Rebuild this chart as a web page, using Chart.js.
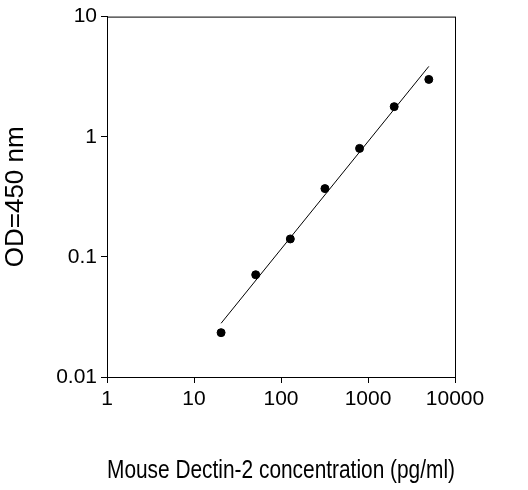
<!DOCTYPE html>
<html>
<head>
<meta charset="utf-8">
<script src="https://cdn.jsdelivr.net/npm/chart.js@4"></script>
<style>
  body { margin: 0; background: #fff; }
  #wrap { width: 528px; height: 490px; }
</style>
</head>
<body>
<div id="wrap"><canvas id="c"></canvas></div>
<script>
// standard concentrations (pg/ml) and measured OD
const conc = [20.48, 51.2, 128, 320, 800, 2000, 5000];
const od = [0.0234, 0.071, 0.141, 0.37, 0.80, 1.78, 3.0];
// fitted line end points
const fitX = [20.48, 5000];
const fitY = [0.028, 3.85];
const xTicks = [1, 10, 100, 1000, 10000];
const yTicks = [0.01, 0.1, 1, 10];

const fam = "Arial, 'Liberation Sans', sans-serif";
const tickFont = { family: fam, size: 21 };
const titleFont = { family: fam, size: 26 };

const boxPlugin = {
  id: "box",
  afterDraw(chart) {
    const a = chart.chartArea, ctx = chart.ctx;
    ctx.save();
    ctx.strokeStyle = "#000";
    ctx.lineWidth = 1;
    ctx.strokeRect(a.left + 0.5, a.top + 0.5, a.right - a.left, a.bottom - a.top);
    ctx.restore();
  }
};

new Chart(document.getElementById("c"), {
  type: "scatter",
  data: {
    datasets: [
      {
        data: conc.map((x, i) => ({ x, y: od[i] })),
        backgroundColor: "#000",
        borderColor: "#000",
        pointRadius: 4
      },
      {
        data: fitX.map((x, i) => ({ x, y: fitY[i] })),
        showLine: true,
        borderColor: "#000",
        borderWidth: 1,
        pointRadius: 0
      }
    ]
  },
  options: {
    responsive: true,
    maintainAspectRatio: false,
    animation: false,
    layout: { padding: { top: 8, right: 73, left: 0, bottom: 0 } },
    plugins: { legend: { display: false }, tooltip: { enabled: false } },
    scales: {
      x: {
        type: "logarithmic",
        min: 1, max: 10000,
        afterBuildTicks: s => { s.ticks = xTicks.map(v => ({ value: v })); },
        afterFit: s => { s.height = 113; },
        ticks: { color: "#000", font: tickFont, maxRotation: 0, callback: v => String(v), padding: 4 },
        grid: { drawOnChartArea: false, color: "#000", tickLength: 6 },
        border: { color: "#000" },
        title: { display: true, text: "Mouse Dectin-2 concentration (pg/ml)", color: "#000", font: titleFont, padding: { top: 36 } }
      },
      y: {
        type: "logarithmic",
        min: 0.01, max: 10,
        afterBuildTicks: s => { s.ticks = yTicks.map(v => ({ value: v })); },
        afterFit: s => { s.width = 107; },
        ticks: { color: "#000", font: tickFont, callback: v => String(v), padding: 4 },
        grid: { drawOnChartArea: false, color: "#000", tickLength: 6 },
        border: { color: "#000" },
        title: { display: true, text: "OD=450 nm", color: "#000", font: titleFont, padding: 0 }
      }
    }
  },
  plugins: [boxPlugin]
});
</script>
</body>
</html>
